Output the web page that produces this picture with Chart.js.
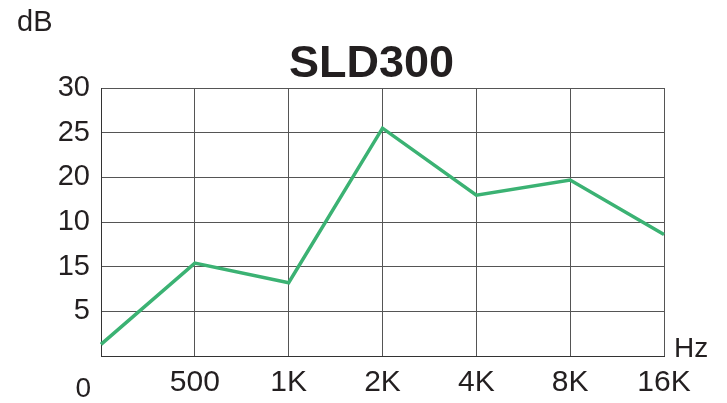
<!DOCTYPE html>
<html>
<head>
<meta charset="utf-8">
<script src="https://cdn.jsdelivr.net/npm/chart.js@4.4.1/dist/chart.umd.min.js"></script>
<style>
    html, body { margin: 0; padding: 0; background: #ffffff; }
    #wrap { width: 727px; height: 403px; }
</style>
</head>
<body>
<div id="wrap"><canvas id="chart" width="727" height="403"></canvas></div>
<script>
// Chart data
const frequencies = ['', '500', '1K', '2K', '4K', '8K', '16K'];
const levels = [1.3, 10.4, 8.2, 25.5, 18.0, 19.7, 13.6];
const yTickValues = [0, 5, 10, 15, 20, 25, 30];
const yTickLabels = ['', '5', '15', '10', '20', '25', '30'];
const titleText = 'SLD300';
const yUnit = 'dB';
const xUnit = 'Hz';
const originLabel = '0';

const FONT = 'Arial, "Liberation Sans", sans-serif';

// Draws title, unit labels and the displaced "0"
const extraText = {
    id: 'extraText',
    afterDraw(chart) {
        const ctx = chart.ctx;
        const area = chart.chartArea;
        ctx.save();
        ctx.fillStyle = '#231f20';

        ctx.font = 'bold 45px ' + FONT;
        ctx.textAlign = 'center';
        ctx.textBaseline = 'alphabetic';
        ctx.fillText(titleText, (area.left + area.right) / 2 - 11, 77);

        ctx.font = '29px ' + FONT;
        ctx.textAlign = 'left';
        ctx.fillText(yUnit, 17, 31);

        ctx.font = '28px ' + FONT;
        ctx.fillText(xUnit, area.right + 10, area.bottom + 1);

        ctx.textAlign = 'right';
        ctx.fillText(originLabel, area.left - 10, area.bottom + 41);
        ctx.restore();
    }
};

document.addEventListener('DOMContentLoaded', function() {
    const ctx = document.getElementById('chart').getContext('2d');
    new Chart(ctx, {
        type: 'line',
        data: {
            labels: frequencies,
            datasets: [{
                data: levels,
                borderColor: '#3bb273',
                borderWidth: 3.5,
                pointRadius: 0,
                tension: 0,
                fill: false
            }]
        },
        options: {
            responsive: false,
            animation: false,
            layout: {
                padding: { top: 88, right: 63, left: 0, bottom: 0 }
            },
            plugins: {
                legend: { display: false },
                title: { display: false },
                tooltip: { enabled: false }
            },
            scales: {
                x: {
                    offset: false,
                    afterFit: function(scale) { scale.height = 47; },
                    grid: { color: '#555555', lineWidth: 1, drawTicks: false },
                    border: { color: '#333333', width: 1 },
                    ticks: {
                        color: '#231f20',
                        font: { family: FONT, size: 30 },
                        padding: 9,
                        maxRotation: 0,
                        autoSkip: false
                    }
                },
                y: {
                    min: 0,
                    max: 30,
                    afterFit: function(scale) { scale.width = 101; },
                    afterBuildTicks: function(scale) {
                        scale.ticks = yTickValues.map(v => ({ value: v }));
                    },
                    grid: { color: '#555555', lineWidth: 1, drawTicks: false },
                    border: { color: '#333333', width: 1 },
                    ticks: {
                        color: '#231f20',
                        font: { family: FONT, size: 29 },
                        padding: 11,
                        callback: function(value) {
                            return yTickLabels[yTickValues.indexOf(value)];
                        }
                    }
                }
            }
        },
        plugins: [extraText]
    });
});
</script>
</body>
</html>
